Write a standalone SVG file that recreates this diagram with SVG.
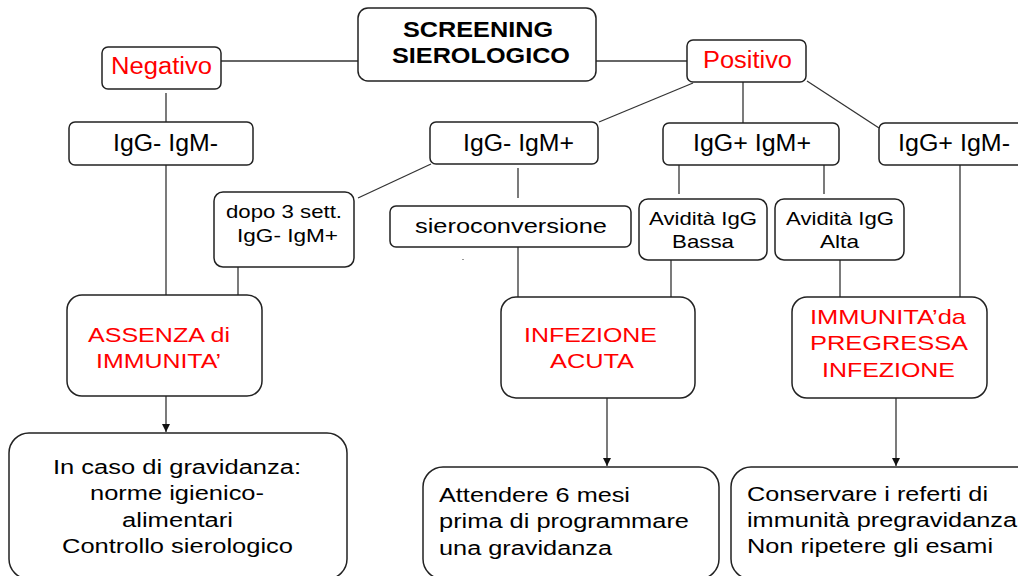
<svg xmlns="http://www.w3.org/2000/svg" width="1018" height="576" viewBox="0 0 1018 576">
<defs>
<style>
.box{fill:#fff;stroke:#222;stroke-width:1.5}
.ln{stroke:#333;stroke-width:1.3;fill:none}
.t{font-family:"Liberation Sans",Arial,sans-serif;fill:#000}
.r{fill:#ff0000}
.b{font-weight:bold}
</style>
<marker id="ah" viewBox="0 0 10 10" refX="10" refY="5" markerWidth="8" markerHeight="8" markerUnits="userSpaceOnUse" orient="auto">
<path d="M0,0 L10,5 L0,10 Z" fill="#111"/>
</marker>
</defs>
<rect width="1018" height="576" fill="#fff"/>
<g id="connectors">
<line class="ln" x1="221" y1="61" x2="358" y2="61"/>
<line class="ln" x1="596" y1="61" x2="687" y2="61"/>
<line class="ln" x1="166" y1="93" x2="166" y2="122"/>
<line class="ln" x1="166" y1="165" x2="166" y2="295"/>
<line class="ln" x1="599" y1="122" x2="693" y2="83"/>
<line class="ln" x1="743" y1="82" x2="743" y2="123"/>
<line class="ln" x1="807" y1="81" x2="879" y2="128"/>
<line class="ln" x1="518" y1="168" x2="518" y2="198"/>
<line class="ln" x1="431" y1="164" x2="358" y2="198"/>
<line class="ln" x1="238" y1="267" x2="238" y2="295"/>
<line class="ln" x1="518" y1="247" x2="518" y2="297"/>
<line class="ln" x1="679" y1="165" x2="679" y2="194"/>
<line class="ln" x1="824" y1="165" x2="824" y2="194"/>
<line class="ln" x1="671" y1="260" x2="671" y2="297"/>
<line class="ln" x1="840" y1="260" x2="840" y2="297"/>
<line class="ln" x1="960" y1="165" x2="960" y2="302"/>
<line class="ln" x1="166" y1="396" x2="166" y2="432" marker-end="url(#ah)"/>
<line class="ln" x1="607" y1="398" x2="607" y2="466" marker-end="url(#ah)"/>
<line class="ln" x1="896" y1="398" x2="896" y2="466" marker-end="url(#ah)"/>
<rect x="462" y="259" width="2" height="1" fill="#999"/>
</g>
<g id="screening">
<rect class="box" x="358" y="8" width="238" height="73" rx="10"/>
<text class="t b" x="403" y="37" font-size="22" textLength="150" lengthAdjust="spacingAndGlyphs">SCREENING</text>
<text class="t b" x="392" y="63" font-size="22" textLength="178" lengthAdjust="spacingAndGlyphs">SIEROLOGICO</text>
</g>
<g id="negativo">
<rect class="box" x="102" y="47" width="119" height="42" rx="6"/>
<text class="t r" x="111" y="74" font-size="23" textLength="101" lengthAdjust="spacingAndGlyphs">Negativo</text>
</g>
<g id="positivo">
<rect class="box" x="687" y="40" width="119" height="42" rx="6"/>
<text class="t r" x="703" y="68" font-size="23" textLength="89" lengthAdjust="spacingAndGlyphs">Positivo</text>
</g>
<g id="igg-neg-igm-neg">
<rect class="box" x="69" y="122" width="184" height="43" rx="6"/>
<text class="t" x="113" y="151" font-size="23" textLength="105" lengthAdjust="spacingAndGlyphs">IgG- IgM-</text>
</g>
<g id="igg-neg-igm-pos">
<rect class="box" x="430" y="122" width="168" height="42" rx="6"/>
<text class="t" x="463" y="151" font-size="23" textLength="111" lengthAdjust="spacingAndGlyphs">IgG- IgM+</text>
</g>
<g id="igg-pos-igm-pos">
<rect class="box" x="663" y="123" width="176" height="42" rx="6"/>
<text class="t" x="693" y="151" font-size="23" textLength="118" lengthAdjust="spacingAndGlyphs">IgG+ IgM+</text>
</g>
<g id="igg-pos-igm-neg">
<rect class="box" x="879" y="123" width="170" height="42" rx="6"/>
<text class="t" x="898" y="151" font-size="23" textLength="112" lengthAdjust="spacingAndGlyphs">IgG+ IgM-</text>
</g>
<g id="dopo">
<rect class="box" x="214" y="192" width="140" height="75" rx="9"/>
<text class="t" x="226" y="218" font-size="19" textLength="116" lengthAdjust="spacingAndGlyphs">dopo 3 sett.</text>
<text class="t" x="237" y="242" font-size="19" textLength="101" lengthAdjust="spacingAndGlyphs">IgG- IgM+</text>
</g>
<g id="sieroconversione">
<rect class="box" x="390" y="206" width="241" height="41" rx="6"/>
<text class="t" x="415" y="233" font-size="21" textLength="192" lengthAdjust="spacingAndGlyphs">sieroconversione</text>
</g>
<g id="avidita-bassa">
<rect class="box" x="639" y="199" width="128" height="61" rx="9"/>
<text class="t" x="649" y="225" font-size="19" textLength="108" lengthAdjust="spacingAndGlyphs">Avidità IgG</text>
<text class="t" x="672" y="248" font-size="19" textLength="62" lengthAdjust="spacingAndGlyphs">Bassa</text>
</g>
<g id="avidita-alta">
<rect class="box" x="775" y="199" width="129" height="61" rx="9"/>
<text class="t" x="786" y="225" font-size="19" textLength="108" lengthAdjust="spacingAndGlyphs">Avidità IgG</text>
<text class="t" x="820" y="248" font-size="19" textLength="39" lengthAdjust="spacingAndGlyphs">Alta</text>
</g>
<g id="assenza">
<rect class="box" x="67" y="295" width="195" height="101" rx="15"/>
<text class="t r" x="88" y="342" font-size="21" textLength="142" lengthAdjust="spacingAndGlyphs">ASSENZA di</text>
<text class="t r" x="96" y="368" font-size="21" textLength="125" lengthAdjust="spacingAndGlyphs">IMMUNITA’</text>
</g>
<g id="infezione-acuta">
<rect class="box" x="501" y="297" width="194" height="101" rx="15"/>
<text class="t r" x="524" y="342" font-size="21" textLength="133" lengthAdjust="spacingAndGlyphs">INFEZIONE</text>
<text class="t r" x="550" y="368" font-size="21" textLength="84" lengthAdjust="spacingAndGlyphs">ACUTA</text>
</g>
<g id="immunita-pregressa">
<rect class="box" x="792" y="297" width="195" height="101" rx="15"/>
<text class="t r" x="810" y="324" font-size="21" textLength="156" lengthAdjust="spacingAndGlyphs">IMMUNITA’da</text>
<text class="t r" x="810" y="350" font-size="21" textLength="158" lengthAdjust="spacingAndGlyphs">PREGRESSA</text>
<text class="t r" x="822" y="377" font-size="21" textLength="133" lengthAdjust="spacingAndGlyphs">INFEZIONE</text>
</g>
<g id="gravidanza">
<rect class="box" x="9" y="433" width="338" height="146" rx="20"/>
<text class="t" x="53" y="474" font-size="20" textLength="248" lengthAdjust="spacingAndGlyphs">In caso di gravidanza:</text>
<text class="t" x="90" y="500" font-size="20" textLength="174" lengthAdjust="spacingAndGlyphs">norme igienico-</text>
<text class="t" x="122" y="527" font-size="20" textLength="111" lengthAdjust="spacingAndGlyphs">alimentari</text>
<text class="t" x="62" y="553" font-size="20" textLength="231" lengthAdjust="spacingAndGlyphs">Controllo sierologico</text>
</g>
<g id="attendere">
<rect class="box" x="423" y="467" width="296" height="112" rx="20"/>
<text class="t" x="439" y="502" font-size="20" textLength="191" lengthAdjust="spacingAndGlyphs">Attendere 6 mesi</text>
<text class="t" x="439" y="528" font-size="20" textLength="250" lengthAdjust="spacingAndGlyphs">prima di programmare</text>
<text class="t" x="439" y="555" font-size="20" textLength="173" lengthAdjust="spacingAndGlyphs">una gravidanza</text>
</g>
<g id="conservare">
<rect class="box" x="731" y="467" width="310" height="112" rx="20"/>
<text class="t" x="747" y="501" font-size="20" textLength="241" lengthAdjust="spacingAndGlyphs">Conservare i referti di</text>
<text class="t" x="747" y="527" font-size="20" textLength="270" lengthAdjust="spacingAndGlyphs">immunità pregravidanza</text>
<text class="t" x="747" y="553" font-size="20" textLength="246" lengthAdjust="spacingAndGlyphs">Non ripetere gli esami</text>
</g>
</svg>
